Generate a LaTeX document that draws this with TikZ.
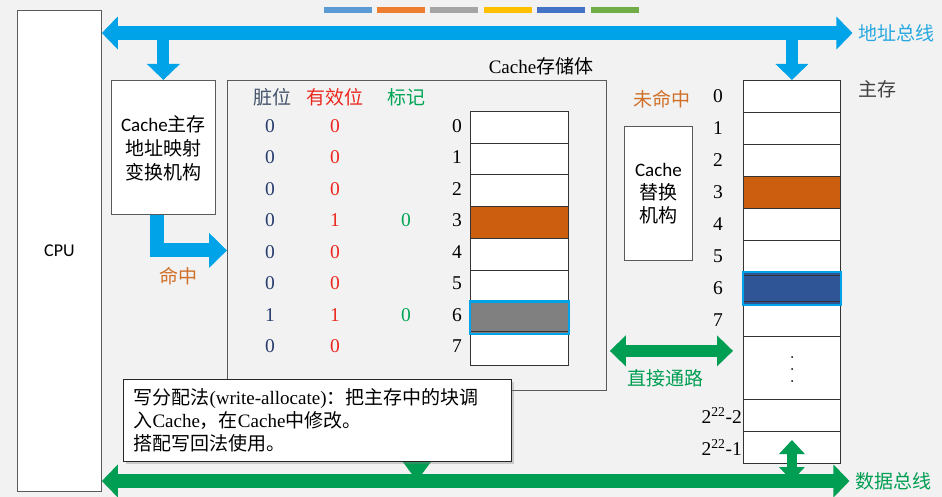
\documentclass[tikz,border=0pt]{standalone}
\usepackage{fontspec}
\setmainfont{Liberation Serif}
\newfontfamily\cjk{Noto Sans CJK SC}
\newfontfamily\calib{Carlito}
\usetikzlibrary{arrows.meta,shadows}
\definecolor{bgc}{RGB}{242,242,242}
\definecolor{busblue}{RGB}{0,163,232}
\definecolor{labblue}{RGB}{40,168,224}
\definecolor{busgreen}{RGB}{0,158,82}
\definecolor{hitorange}{RGB}{208,112,40}
\definecolor{blkorange}{RGB}{204,94,16}
\definecolor{blkblue}{RGB}{47,85,151}
\definecolor{blkgray}{RGB}{128,128,128}
\definecolor{slate}{RGB}{68,84,106}
\definecolor{navy}{RGB}{40,60,110}
\definecolor{redc}{RGB}{235,40,30}
\definecolor{tagg}{RGB}{0,165,85}
\definecolor{bar1}{RGB}{91,155,213}
\definecolor{bar2}{RGB}{237,125,49}
\definecolor{bar3}{RGB}{165,165,165}
\definecolor{bar4}{RGB}{255,192,0}
\definecolor{bar5}{RGB}{68,114,196}
\definecolor{bar6}{RGB}{112,173,71}
\definecolor{edge}{RGB}{90,90,90}
\begin{document}
\begin{tikzpicture}[x=1pt,y=-1pt,
  box/.style={draw=edge, line width=0.8pt, fill=white, anchor=north west, inner sep=0pt},
  cell/.style={draw=black!80, line width=0.9pt, fill=white, anchor=north west, minimum width=98, minimum height=31.75, inner sep=0pt},
  mcell/.style={draw=black!80, line width=0.9pt, fill=white, anchor=north west, minimum width=97, minimum height=32, inner sep=0pt},
  fnum/.style={font=\fontsize{19.5}{22}\selectfont},
  f19/.style={font=\fontsize{19}{23}\selectfont},
  hbus/.style={draw=#1, line width=14pt, <->, >={Triangle[width=32pt,length=16pt]}},
  vbus/.style={draw=busblue, line width=12pt, ->, >={Triangle[width=32pt,length=16pt]}},
  hitarr/.style={draw=busblue, line width=14pt, line join=miter, ->, >={Triangle[width=34pt,length=18pt]}},
  dparr/.style={draw=busgreen, line width=12pt, <->, >={Triangle[width=30pt,length=16pt]}},
  smallg/.style={draw=busgreen, line width=10pt, ->, >={Triangle[width=28pt,length=20pt]}},
  memg/.style={draw=busgreen, line width=10pt, <->, >={Triangle[width=25pt,length=14pt]}}
]
\fill[bgc] (0,0) rectangle (942,497);
\useasboundingbox (0,0) rectangle (942,497);
% colour bars
\fill[bar1] (324,7) rectangle (372,13);
\fill[bar2] (377,7) rectangle (425,13);
\fill[bar3] (430,7) rectangle (478,13);
\fill[bar4] (484,7) rectangle (532,13);
\fill[bar5] (537,7) rectangle (585,13);
\fill[bar6] (591,7) rectangle (639,13);

% CPU
\node[box, minimum width=84, minimum height=481] (cpu) at (17,10) {};
\node[font=\calib\fontsize{18}{20}\selectfont] (cputxt) at (cpu.center) {CPU};

% mapping box
\node[box, minimum width=104, minimum height=134] (map) at (111,80) {};
\node[align=center, font=\fontsize{19}{24}\selectfont] (maptxt) at ([yshift=-1pt]map.center) {{\calib Cache}{\cjk 主存}\\{\cjk 地址映射}\\{\cjk 变换机构}};

% cache storage box
\node[box, minimum width=379, minimum height=310, fill=none] (cbox) at (227,80) {};
\node[f19] (ctitle) at (541,66) {Cache{\cjk 存储体}};
\node[f19, text=slate] (h1) at (272,97) {\cjk 脏位};
\node[f19, text=redc] (h2) at (335,97) {\cjk 有效位};
\node[f19, text=tagg] (h3) at (406,97) {\cjk 标记};
\foreach \d/\v [count=\i from 0] in {0/0,0/0,0/0,0/1,0/0,0/0,1/1,0/0}{
  \node[fnum, text=navy] (d\i) at (270,{126+31.5*\i}) {\d};
  \node[fnum, text=redc] (v\i) at (335,{126+31.5*\i}) {\v};
  \node[fnum] (ci\i) at (457,{126+31.5*\i}) {\i};
  \node[cell] (c\i) at (470,{111+31.75*\i}) {};
}
\node[fnum, text=tagg] (t3) at (406,{126+31.5*3}) {0};
\node[fnum, text=tagg] (t6) at (406,{126+31.5*6}) {0};
\fill[blkorange] (c3.north west) rectangle (c3.south east);
\draw[black!80, line width=0.9pt] (c3.north west) rectangle (c3.south east);
\fill[blkgray] (c6.north west) rectangle (c6.south east);
\draw[black!80, line width=0.9pt] ([yshift=3pt]c6.south west) -- ([yshift=3pt]c6.south east);
\draw[busblue, line width=2.6pt] (c6.north west) rectangle (c6.south east);

% replacement box
\node[box, minimum width=68, minimum height=134] (rep) at (624,126) {};
\node[align=center, font=\fontsize{19}{23}\selectfont] (reptxt) at (rep.center) {{\calib Cache}\\{\cjk 替换}\\{\cjk 机构}};
\node[f19, text=hitorange] (miss) at (662,99) {\cjk 未命中};

% main memory
\foreach \i in {0,...,7}{
  \node[mcell] (m\i) at (743,{80+32*\i}) {};
  \node[fnum] (mi\i) at ([xshift=-25pt]m\i.west) {\i};
}
\node[mcell, minimum height=63] (mdots) at (743,336) {};
\node[mcell] (m8) at (743,399) {};
\node[mcell] (m9) at (743,431) {};
\node[fnum, anchor=east, inner sep=1pt] (mi8) at (m8.west) {2\textsuperscript{22}-2};
\node[fnum, anchor=east, inner sep=1pt] (mi9) at (m9.west) {2\textsuperscript{22}-1};
\foreach \yy in {357,369,381}{\fill (792,\yy) circle (1pt);}
\fill[blkorange] (m3.north west) rectangle (m3.south east);
\draw[black!80, line width=0.9pt] (m3.north west) rectangle (m3.south east);
\fill[blkblue] (m6.north west) rectangle (m6.south east);
\draw[black!80, line width=0.9pt] ([yshift=-3pt]m6.north west) -- ([yshift=-3pt]m6.north east) ([yshift=3pt]m6.south west) -- ([yshift=3pt]m6.south east);
\draw[busblue, line width=2.6pt] (m6.north west) rectangle (m6.south east);
\node[f19, text=black!75] (mm) at (877,89) {\cjk 主存};

% address bus
\node[f19, text=labblue] (alab) at (896,33) {\cjk 地址总线};
\coordinate (abR) at ([xshift=-2pt]alab.west);
\coordinate (abL) at (cpu.east |- abR);
\draw[vbus] (abL -| map.north) -- (map.north);
\draw[vbus] (abL -| m0.north) -- (m0.north);
\draw[hbus=busblue] (abL) -- (abR);

% hit arrow
\draw[hitarr] ([xshift=-6pt]map.south) |- ([yshift=-15pt]cbox.west);
\node[f19, text=hitorange] (hit) at (178,276) {\cjk 命中};

% direct path
\coordinate (dpR) at ([xshift=-10pt,yshift=-14pt]m7.south west);
\draw[dparr, shorten <=3pt] (cbox.east |- dpR) -- (dpR);
\node[f19, text=busgreen] (dlab) at (665,378) {\cjk 直接通路};

% data bus
\node[f19, text=busgreen] (dblab) at (893,481) {\cjk 数据总线};
\coordinate (dbR) at ([xshift=-2pt]dblab.west);
\coordinate (dbL) at (cpu.east |- dbR);
\draw[smallg] (cbox.south) -- (cbox.south |- dbL);
\draw[memg] ([yshift=-9pt]m9.north) -- (m9.center |- dbL);
\draw[hbus=busgreen] (dbL) -- (dbR);

% note box
\node[draw=black!85, line width=1pt, fill=white, anchor=north west, text width=368pt, minimum height=82, inner xsep=10pt, align=left, font=\fontsize{19}{23}\selectfont, drop shadow={shadow xshift=2pt, shadow yshift=-2pt, opacity=0.35}] (note) at (123,379)
 {{\cjk 写分配法}(write-allocate){\cjk ：把主存中的块调}\\{\cjk 入}Cache{\cjk ，在}Cache{\cjk 中修改。}\\{\cjk 搭配写回法使用。}};
\end{tikzpicture}
\end{document}
